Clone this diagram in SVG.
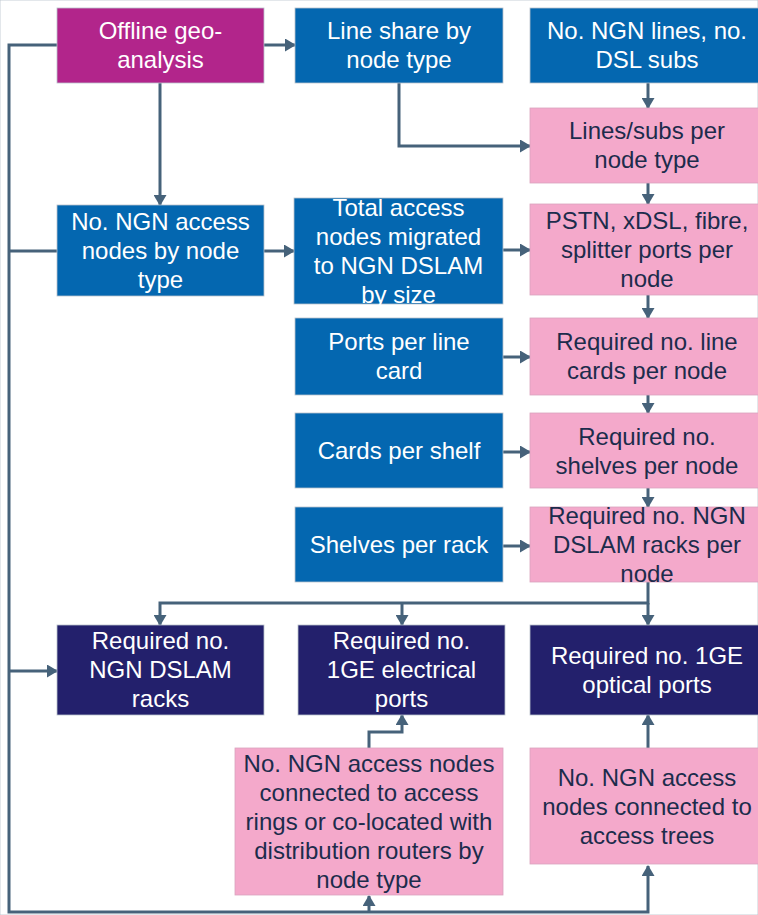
<svg xmlns="http://www.w3.org/2000/svg" width="758" height="915" viewBox="0 0 758 915">
<defs>
<marker id="ah" markerUnits="userSpaceOnUse" markerWidth="11" markerHeight="13" refX="10" refY="6.5" orient="auto">
<path d="M0,0 L11,6.5 L0,13 z" fill="#46627a"/>
</marker>
<style>
rect{stroke:#b9c2cc;stroke-width:0.8}
.mag{fill:#b2258b}
.blue{fill:#0467b0}
.pink{fill:#f4a9cb;stroke:#d9a4bd}
.navy{fill:#23206c}
text{font-family:"Liberation Sans",Arial,sans-serif;font-size:24px;text-anchor:middle}
.w{fill:#ffffff}
.d{fill:#1c2c4c}
.c{fill:none;stroke:#46627a;stroke-width:3}
.a{marker-end:url(#ah)}
</style>
</defs>
<rect width="758" height="915" fill="#ffffff" stroke="none"/>
<g id="connectors">
<path class="c a" d="M57,45 H9 V912 H648 V866"/>
<path class="c" d="M9,251 H57"/>
<path class="c a" d="M9,671 H57"/>
<path class="c a" d="M369,912 V896"/>
<path class="c a" d="M264,45 H295"/>
<path class="c a" d="M160,83 V205"/>
<path class="c a" d="M399,83 V146 H530"/>
<path class="c a" d="M648,83 V108"/>
<path class="c a" d="M648,183 V204"/>
<path class="c a" d="M264,251 H294"/>
<path class="c a" d="M503,250 H530"/>
<path class="c a" d="M648,295 V318"/>
<path class="c a" d="M503,357 H530"/>
<path class="c a" d="M648,395 V413"/>
<path class="c a" d="M503,452 H530"/>
<path class="c a" d="M648,488 V507"/>
<path class="c a" d="M503,546 H530"/>
<path class="c a" d="M648,582 V603 H160 V625"/>
<path class="c a" d="M402,603 V625"/>
<path class="c a" d="M648,603 V625"/>
<path class="c a" d="M369,748 V732 H402 V715"/>
<path class="c a" d="M648,748 V715"/>
</g>
<g id="offline"><rect class="mag" x="57" y="8" width="207" height="75"/>
<text class="w" x="160.5" y="39">Offline geo-</text><text class="w" x="160.5" y="68">analysis</text></g>
<g id="lineshare"><rect class="blue" x="295" y="8" width="208" height="75"/>
<text class="w" x="399" y="39">Line share by</text><text class="w" x="399" y="68">node type</text></g>
<g id="ngnlines"><rect class="blue" x="530" y="8" width="234" height="75"/>
<text class="w" x="647" y="39">No. NGN lines, no.</text><text class="w" x="647" y="68">DSL subs</text></g>
<g id="linessubs"><rect class="pink" x="530" y="108" width="234" height="75"/>
<text class="d" x="647" y="139">Lines/subs per</text><text class="d" x="647" y="168">node type</text></g>
<g id="pstn"><rect class="pink" x="530" y="204" width="234" height="91"/>
<text class="d" x="647" y="229">PSTN, xDSL, fibre,</text><text class="d" x="647" y="258">splitter ports per</text><text class="d" x="647" y="287">node</text></g>
<g id="ngnaccess"><rect class="blue" x="57" y="205" width="207" height="91"/>
<text class="w" x="160.5" y="230">No. NGN access</text><text class="w" x="160.5" y="259">nodes by node</text><text class="w" x="160.5" y="288">type</text></g>
<g id="totalaccess"><rect class="blue" x="294" y="198" width="209" height="106"/>
<text class="w" x="398.5" y="216">Total access</text><text class="w" x="398.5" y="245">nodes migrated</text><text class="w" x="398.5" y="274">to NGN DSLAM</text><text class="w" x="398.5" y="303">by size</text></g>
<g id="portsperline"><rect class="blue" x="295" y="318" width="208" height="77"/>
<text class="w" x="399" y="350">Ports per line</text><text class="w" x="399" y="379">card</text></g>
<g id="reqlinecards"><rect class="pink" x="530" y="318" width="234" height="77"/>
<text class="d" x="647" y="350">Required no. line</text><text class="d" x="647" y="379">cards per node</text></g>
<g id="cardspershelf"><rect class="blue" x="295" y="413" width="208" height="75"/>
<text class="w" x="399" y="459">Cards per shelf</text></g>
<g id="reqshelves"><rect class="pink" x="530" y="413" width="234" height="75"/>
<text class="d" x="647" y="445">Required no.</text><text class="d" x="647" y="474">shelves per node</text></g>
<g id="shelvesperrack"><rect class="blue" x="295" y="507" width="208" height="75"/>
<text class="w" x="399" y="553">Shelves per rack</text></g>
<g id="racksnode"><rect class="pink" x="530" y="507" width="234" height="75"/>
<text class="d" x="647" y="524">Required no. NGN</text><text class="d" x="647" y="553">DSLAM racks per</text><text class="d" x="647" y="582">node</text></g>
<g id="reqracks"><rect class="navy" x="57" y="625" width="207" height="90"/>
<text class="w" x="160.5" y="649">Required no.</text><text class="w" x="160.5" y="678">NGN DSLAM</text><text class="w" x="160.5" y="707">racks</text></g>
<g id="elecports"><rect class="navy" x="298" y="625" width="207" height="90"/>
<text class="w" x="401.5" y="649">Required no.</text><text class="w" x="401.5" y="678">1GE electrical</text><text class="w" x="401.5" y="707">ports</text></g>
<g id="optports"><rect class="navy" x="530" y="625" width="234" height="90"/>
<text class="w" x="647" y="664">Required no. 1GE</text><text class="w" x="647" y="693">optical ports</text></g>
<g id="rings"><rect class="pink" x="235" y="748" width="268" height="147"/>
<text class="d" x="369" y="772">No. NGN access nodes</text><text class="d" x="369" y="801">connected to access</text><text class="d" x="369" y="830">rings or co-located with</text><text class="d" x="369" y="859">distribution routers by</text><text class="d" x="369" y="888">node type</text></g>
<g id="trees"><rect class="pink" x="530" y="748" width="234" height="116"/>
<text class="d" x="647" y="786">No. NGN access</text><text class="d" x="647" y="815">nodes connected to</text><text class="d" x="647" y="844">access trees</text></g>
</svg>
